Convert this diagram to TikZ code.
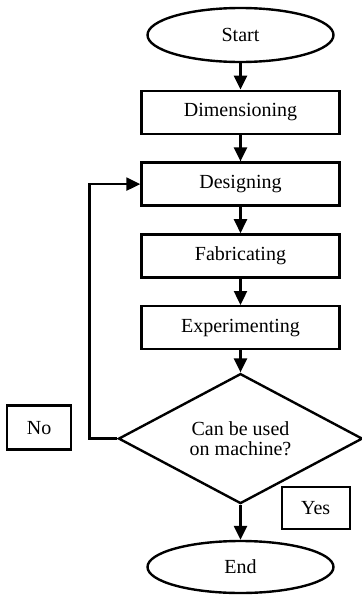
\documentclass[tikz,border=0pt]{standalone}
\usepackage{fontspec}
\setmainfont{Liberation Serif}
\usetikzlibrary{arrows.meta, positioning, shapes.geometric}
\tikzset{
  box/.style={draw, line width=1.2pt, minimum height=21.5pt, minimum width=99pt, font=\fontsize{10}{12}\selectfont},
  term/.style={draw, ellipse, line width=1.2pt, minimum height=27pt, minimum width=93pt, font=\fontsize{10}{12}\selectfont},
  dec/.style={draw, diamond, aspect=1.9, line width=1.2pt, inner sep=0pt, minimum height=65pt, minimum width=122pt, align=center, font=\fontsize{10}{10}\selectfont},
  lbl/.style={draw, line width=1.2pt, minimum height=22pt, minimum width=32pt, font=\fontsize{10}{12}\selectfont},
  arr/.style={-{Triangle[length=7pt, width=6.5pt]}, line width=1.2pt},
}

\begin{document}
\begin{tikzpicture}[node distance=13.2pt]
    \useasboundingbox (0,0) rectangle (181pt,-297.5pt);
    \node[term] (start) at (120.25pt,-17.5pt) {Start};
    \node[box, below=of start] (dim) {Dimensioning};
    \node[box, below=of dim] (des) {Designing};
    \node[box, below=of des] (fab) {Fabricating};
    \node[box, below=of fab] (exp) {Experimenting};
    \node[dec, below=11pt of exp] (ok) {Can be used\\on machine?};
    \node[term, below=17.5pt of ok, minimum height=26pt] (end) {End};
    \node[lbl, left=22.5pt of ok, yshift=5.5pt] (no) {No};
    \node[lbl, below right=-9.5pt and 20pt of ok.south, minimum width=34pt, minimum height=21pt] (yes) {Yes};
    \draw[arr] (start) -- (dim);
    \draw[arr] (dim) -- (des);
    \draw[arr] (des) -- (fab);
    \draw[arr] (fab) -- (exp);
    \draw[arr] (exp) -- (ok);
    \draw[arr] (ok) -- (end);
    \draw[arr] (ok.west) -- ++(-14pt,0) |- (des.west);
  \end{tikzpicture}
\end{document}
